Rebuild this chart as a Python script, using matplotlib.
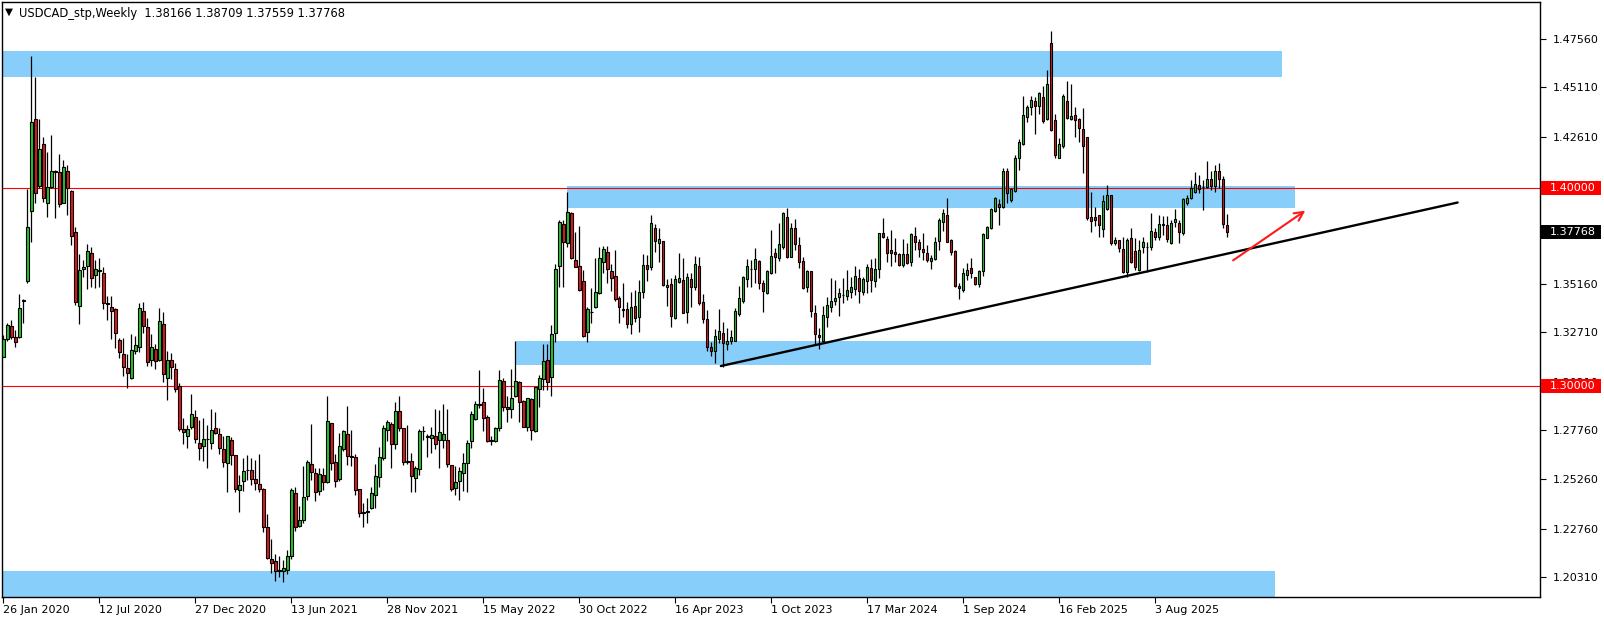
import matplotlib

matplotlib.use('Agg')
import numpy as np
import matplotlib.pyplot as plt
from matplotlib.patches import Rectangle
from matplotlib.transforms import blended_transform_factory

# USDCAD weekly candles, first bar = week of 26 Jan 2020
opens = [
    1.3148, 1.3235, 1.3303, 1.3247, 1.3249, 1.3430, 1.3532, 1.3887, 1.4349, 1.4014,
    1.4223, 1.3924, 1.4008, 1.4089, 1.4081, 1.3927, 1.4089, 1.3987, 1.3777, 1.3406,
    1.3590, 1.3608, 1.3671, 1.3560, 1.3585, 1.3570, 1.3418, 1.3401, 1.3389, 1.3230,
    1.3161, 1.3089, 1.3037, 1.3176, 1.3198, 1.3378, 1.3297, 1.3131, 1.3188, 1.3131,
    1.3314, 1.3037, 1.3133, 1.3083, 1.2999, 1.2780, 1.2747, 1.2791, 1.2842, 1.2712,
    1.2695, 1.2732, 1.2708, 1.2784, 1.2755, 1.2682, 1.2609, 1.2728, 1.2649, 1.2470,
    1.2518, 1.2572, 1.2574, 1.2529, 1.2505, 1.2476, 1.2287, 1.2122, 1.2112, 1.2060,
    1.2062, 1.2068, 1.2136, 1.2456, 1.2292, 1.2318, 1.2444, 1.2603, 1.2557, 1.2469,
    1.2549, 1.2515, 1.2810, 1.2613, 1.2527, 1.2679, 1.2757, 1.2645, 1.2638, 1.2478,
    1.2360, 1.2360, 1.2380, 1.2446, 1.2540, 1.2636, 1.2775, 1.2808, 1.2703, 1.2872,
    1.2786, 1.2620, 1.2618, 1.2535, 1.2578, 1.2770, 1.2748, 1.2735, 1.2748, 1.2726,
    1.2726, 1.2726, 1.2600, 1.2482, 1.2519, 1.2557, 1.2608, 1.2718, 1.2831, 1.2905,
    1.2918, 1.2840, 1.2725, 1.2722, 1.2785, 1.3026, 1.2891, 1.2880, 1.2950, 1.3018,
    1.2923, 1.2793, 1.2933, 1.2771, 1.2984, 1.3035, 1.3131, 1.3043, 1.3265, 1.3606,
    1.3818, 1.3725, 1.3873, 1.3637, 1.3608, 1.3532, 1.3274, 1.3375, 1.3397, 1.3468,
    1.3628, 1.3676, 1.3581, 1.3556, 1.3443, 1.3387, 1.3389, 1.3311, 1.3405, 1.3347,
    1.3476, 1.3610, 1.3600, 1.3797, 1.3721, 1.3733, 1.3502, 1.3514, 1.3342, 1.3527,
    1.3536, 1.3375, 1.3539, 1.3499, 1.3607, 1.3423, 1.3337, 1.3198, 1.3178, 1.3236,
    1.3269, 1.3210, 1.3229, 1.3229, 1.3364, 1.3431, 1.3541, 1.3590, 1.3590, 1.3634,
    1.3519, 1.3471, 1.3570, 1.3671, 1.3649, 1.3701, 1.3853, 1.3654, 1.3797, 1.3713,
    1.3632, 1.3499, 1.3581, 1.3367, 1.3257, 1.3229, 1.3347, 1.3400, 1.3431, 1.3451,
    1.3460, 1.3455, 1.3473, 1.3488, 1.3544, 1.3477, 1.3532, 1.3595, 1.3532, 1.3590,
    1.3772, 1.3741, 1.3687, 1.3679, 1.3667, 1.3611, 1.3667, 1.3628, 1.3758, 1.3730,
    1.3691, 1.3674, 1.3633, 1.3643, 1.3733, 1.3831, 1.3865, 1.3738, 1.3684, 1.3505,
    1.3485, 1.3561, 1.3595, 1.3553, 1.3514, 1.3581, 1.3750, 1.3797, 1.3885, 1.3919,
    1.3907, 1.4088, 1.3941, 1.3988, 1.4152, 1.4223, 1.4363, 1.4413, 1.4442, 1.4418,
    1.4464, 1.4351, 1.4734, 1.4346, 1.4155, 1.4216, 1.4442, 1.4351, 1.4371, 1.4349,
    1.4300, 1.4258, 1.3856, 1.3856, 1.3865, 1.3792, 1.3895, 1.3966, 1.3721, 1.3738,
    1.3692, 1.3578, 1.3747, 1.3682, 1.3586, 1.3701, 1.3705, 1.3701, 1.3777, 1.3752,
    1.3819, 1.3814, 1.3721, 1.3828, 1.3826, 1.3775, 1.3924, 1.3949, 1.3983, 1.4017,
    1.4008, 1.4005, 1.4045, 1.4010, 1.4090, 1.4045, 1.38166,
]
highs = [
    1.3257, 1.3320, 1.3334, 1.3283, 1.3465, 1.3441, 1.3997, 1.4672, 1.4565, 1.4351,
    1.4262, 1.4186, 1.4270, 1.4093, 1.4174, 1.4143, 1.4118, 1.3990, 1.3803, 1.3668,
    1.3637, 1.3718, 1.3705, 1.3637, 1.3646, 1.3603, 1.3455, 1.3455, 1.3392, 1.3240,
    1.3240, 1.3161, 1.3262, 1.3251, 1.3418, 1.3423, 1.3342, 1.3262, 1.3210, 1.3396,
    1.3375, 1.3176, 1.3164, 1.3113, 1.3013, 1.2835, 1.2801, 1.2957, 1.2876, 1.2828,
    1.2835, 1.2801, 1.2881, 1.2868, 1.2784, 1.2745, 1.2745, 1.2741, 1.2650, 1.2548,
    1.2633, 1.2648, 1.2633, 1.2625, 1.2655, 1.2483, 1.2351, 1.2226, 1.2150, 1.2140,
    1.2120, 1.2170, 1.2485, 1.2490, 1.2389, 1.2595, 1.2625, 1.2807, 1.2583, 1.2583,
    1.2583, 1.2949, 1.2812, 1.2655, 1.2760, 1.2777, 1.2899, 1.2777, 1.2653, 1.2478,
    1.2409, 1.2431, 1.2490, 1.2604, 1.2688, 1.2802, 1.2825, 1.2816, 1.2917, 1.2946,
    1.2787, 1.2800, 1.2658, 1.2594, 1.2780, 1.2794, 1.2758, 1.2792, 1.2883, 1.2875,
    1.2909, 1.2880, 1.2601, 1.2594, 1.2591, 1.2658, 1.2726, 1.2870, 1.2921, 1.3082,
    1.2989, 1.2852, 1.2745, 1.2792, 1.3080, 1.3037, 1.2946, 1.3083, 1.3227, 1.3026,
    1.2928, 1.2937, 1.2939, 1.2993, 1.3055, 1.3212, 1.3212, 1.3308, 1.3615, 1.3840,
    1.3840, 1.3983, 1.3882, 1.3781, 1.3809, 1.3586, 1.3397, 1.3493, 1.3645, 1.3701,
    1.3707, 1.3708, 1.3617, 1.3687, 1.3455, 1.3519, 1.3426, 1.3473, 1.3485, 1.3536,
    1.3666, 1.3662, 1.3865, 1.3819, 1.3801, 1.3735, 1.3539, 1.3544, 1.3561, 1.3674,
    1.3645, 1.3570, 1.3570, 1.3657, 1.3654, 1.3465, 1.3384, 1.3224, 1.3286, 1.3387,
    1.3325, 1.3291, 1.3283, 1.3392, 1.3505, 1.3556, 1.3640, 1.3637, 1.3696, 1.3637,
    1.3536, 1.3586, 1.3789, 1.3696, 1.3823, 1.3882, 1.3899, 1.3826, 1.3843, 1.3755,
    1.3654, 1.3586, 1.3582, 1.3409, 1.3291, 1.3404, 1.3448, 1.3544, 1.3536, 1.3493,
    1.3544, 1.3586, 1.3553, 1.3606, 1.3590, 1.3553, 1.3615, 1.3640, 1.3645, 1.3775,
    1.3848, 1.3758, 1.3789, 1.3747, 1.3674, 1.3742, 1.3725, 1.3775, 1.3806, 1.3742,
    1.3772, 1.3713, 1.3662, 1.3752, 1.3848, 1.3894, 1.3949, 1.3742, 1.3688, 1.3519,
    1.3595, 1.3623, 1.3645, 1.3553, 1.3586, 1.3772, 1.3811, 1.3902, 1.3957, 1.3946,
    1.4101, 1.4101, 1.4003, 1.4169, 1.4249, 1.4469, 1.4422, 1.4469, 1.4464, 1.4489,
    1.4518, 1.4599, 1.4796, 1.4374, 1.4253, 1.4476, 1.4543, 1.4526, 1.4413, 1.4354,
    1.4408, 1.4261, 1.3983, 1.3907, 1.3866, 1.3966, 1.4017, 1.3967, 1.3755, 1.3740,
    1.3755, 1.3747, 1.3797, 1.3747, 1.3738, 1.3755, 1.3730, 1.3877, 1.3797, 1.3865,
    1.3860, 1.3860, 1.3840, 1.3893, 1.3840, 1.3949, 1.3966, 1.4042, 1.4081, 1.4067,
    1.4042, 1.4140, 1.4090, 1.4120, 1.4130, 1.4060, 1.38709,
]
lows = [
    1.3145, 1.3229, 1.3235, 1.3198, 1.3240, 1.3316, 1.3519, 1.3730, 1.3924, 1.4000,
    1.3932, 1.3857, 1.4000, 1.3848, 1.3907, 1.3924, 1.3865, 1.3713, 1.3409, 1.3313,
    1.3549, 1.3489, 1.3499, 1.3494, 1.3502, 1.3387, 1.3333, 1.3237, 1.3190, 1.3139,
    1.3050, 1.2990, 1.3035, 1.3161, 1.3171, 1.3266, 1.3101, 1.3098, 1.3083, 1.3125,
    1.3019, 1.2927, 1.3032, 1.2970, 1.2773, 1.2705, 1.2686, 1.2783, 1.2710, 1.2626,
    1.2620, 1.2586, 1.2682, 1.2755, 1.2657, 1.2589, 1.2463, 1.2598, 1.2463, 1.2363,
    1.2468, 1.2523, 1.2498, 1.2473, 1.2462, 1.2262, 1.2124, 1.2050, 1.2012, 1.2030,
    1.2007, 1.2045, 1.2122, 1.2267, 1.2287, 1.2304, 1.2422, 1.2523, 1.2417, 1.2447,
    1.2473, 1.2510, 1.2574, 1.2490, 1.2520, 1.2669, 1.2600, 1.2595, 1.2447, 1.2334,
    1.2287, 1.2304, 1.2375, 1.2383, 1.2490, 1.2625, 1.2721, 1.2585, 1.2681, 1.2771,
    1.2601, 1.2605, 1.2460, 1.2460, 1.2549, 1.2726, 1.2637, 1.2660, 1.2680, 1.2586,
    1.2687, 1.2591, 1.2466, 1.2449, 1.2424, 1.2466, 1.2461, 1.2684, 1.2828, 1.2888,
    1.2773, 1.2716, 1.2700, 1.2715, 1.2772, 1.2874, 1.2818, 1.2835, 1.2945, 1.2818,
    1.2789, 1.2771, 1.2725, 1.2767, 1.2894, 1.2979, 1.2979, 1.2950, 1.3223, 1.3502,
    1.3502, 1.3701, 1.3640, 1.3600, 1.3482, 1.3249, 1.3223, 1.3316, 1.3395, 1.3465,
    1.3569, 1.3519, 1.3481, 1.3431, 1.3320, 1.3350, 1.3291, 1.3260, 1.3322, 1.3274,
    1.3443, 1.3533, 1.3586, 1.3676, 1.3628, 1.3505, 1.3404, 1.3299, 1.3340, 1.3519,
    1.3370, 1.3316, 1.3401, 1.3485, 1.3409, 1.3316, 1.3178, 1.3151, 1.3117, 1.3215,
    1.3097, 1.3180, 1.3212, 1.3225, 1.3354, 1.3418, 1.3502, 1.3502, 1.3519, 1.3488,
    1.3375, 1.3465, 1.3568, 1.3570, 1.3634, 1.3691, 1.3648, 1.3652, 1.3688, 1.3595,
    1.3488, 1.3477, 1.3350, 1.3212, 1.3185, 1.3225, 1.3296, 1.3375, 1.3409, 1.3354,
    1.3418, 1.3435, 1.3443, 1.3460, 1.3421, 1.3460, 1.3468, 1.3477, 1.3502, 1.3547,
    1.3747, 1.3629, 1.3607, 1.3629, 1.3606, 1.3600, 1.3617, 1.3606, 1.3688, 1.3654,
    1.3637, 1.3629, 1.3590, 1.3637, 1.3688, 1.3785, 1.3728, 1.3662, 1.3500, 1.3438,
    1.3477, 1.3536, 1.3544, 1.3510, 1.3500, 1.3557, 1.3747, 1.3793, 1.3882, 1.3814,
    1.3902, 1.3924, 1.3932, 1.3983, 1.4093, 1.4219, 1.4334, 1.4371, 1.4273, 1.4374,
    1.4329, 1.4346, 1.4290, 1.4152, 1.4152, 1.4206, 1.4351, 1.4346, 1.4261, 1.4236,
    1.4076, 1.3839, 1.3780, 1.3809, 1.3755, 1.3755, 1.3890, 1.3713, 1.3713, 1.3679,
    1.3570, 1.3553, 1.3623, 1.3586, 1.3583, 1.3671, 1.3578, 1.3688, 1.3738, 1.3738,
    1.3764, 1.3730, 1.3718, 1.3806, 1.3721, 1.3764, 1.3915, 1.3944, 1.3975, 1.3975,
    1.3890, 1.4000, 1.3990, 1.3980, 1.4000, 1.3800, 1.37559,
]
closes = [
    1.3235, 1.3306, 1.3249, 1.3224, 1.3392, 1.3436, 1.3802, 1.4334, 1.3975, 1.4199,
    1.3949, 1.4008, 1.4089, 1.4085, 1.3919, 1.4110, 1.4000, 1.3760, 1.3423, 1.3587,
    1.3600, 1.3684, 1.3544, 1.3593, 1.3583, 1.3418, 1.3415, 1.3381, 1.3266, 1.3173,
    1.3097, 1.3063, 1.3179, 1.3209, 1.3393, 1.3305, 1.3118, 1.3198, 1.3125, 1.3328,
    1.3061, 1.3130, 1.3093, 1.2984, 1.2783, 1.2768, 1.2780, 1.2859, 1.2730, 1.2685,
    1.2732, 1.2730, 1.2776, 1.2759, 1.2685, 1.2614, 1.2745, 1.2652, 1.2475, 1.2497,
    1.2570, 1.2575, 1.2527, 1.2506, 1.2477, 1.2287, 1.2127, 1.2105, 1.2060, 1.2068,
    1.2075, 1.2140, 1.2473, 1.2284, 1.2318, 1.2436, 1.2613, 1.2561, 1.2464, 1.2554,
    1.2515, 1.2822, 1.2611, 1.2520, 1.2696, 1.2772, 1.2645, 1.2642, 1.2473, 1.2358,
    1.2358, 1.2366, 1.2456, 1.2544, 1.2638, 1.2785, 1.2816, 1.2703, 1.2872, 1.2786,
    1.2616, 1.2616, 1.2543, 1.2583, 1.2772, 1.2772, 1.2740, 1.2753, 1.2703, 1.2765,
    1.2755, 1.2603, 1.2477, 1.2511, 1.2571, 1.2608, 1.2709, 1.2858, 1.2907, 1.2907,
    1.2836, 1.2722, 1.2722, 1.2784, 1.3029, 1.2891, 1.2880, 1.2936, 1.3024, 1.2916,
    1.2793, 1.2936, 1.2776, 1.2992, 1.3038, 1.3126, 1.3018, 1.3262, 1.3591, 1.3828,
    1.3730, 1.3882, 1.3645, 1.3603, 1.3485, 1.3254, 1.3387, 1.3373, 1.3473, 1.3645,
    1.3692, 1.3593, 1.3544, 1.3441, 1.3397, 1.3384, 1.3311, 1.3400, 1.3345, 1.3473,
    1.3610, 1.3593, 1.3825, 1.3735, 1.3742, 1.3510, 1.3508, 1.3355, 1.3539, 1.3544,
    1.3370, 1.3553, 1.3499, 1.3617, 1.3421, 1.3338, 1.3198, 1.3178, 1.3253, 1.3275,
    1.3215, 1.3227, 1.3249, 1.3380, 1.3443, 1.3549, 1.3607, 1.3592, 1.3640, 1.3522,
    1.3481, 1.3581, 1.3657, 1.3654, 1.3718, 1.3873, 1.3650, 1.3797, 1.3716, 1.3625,
    1.3497, 1.3581, 1.3380, 1.3262, 1.3245, 1.3359, 1.3409, 1.3429, 1.3443, 1.3468,
    1.3458, 1.3485, 1.3498, 1.3558, 1.3482, 1.3539, 1.3603, 1.3535, 1.3590, 1.3772,
    1.3752, 1.3671, 1.3674, 1.3667, 1.3611, 1.3667, 1.3623, 1.3768, 1.3730, 1.3691,
    1.3679, 1.3637, 1.3649, 1.3730, 1.3840, 1.3874, 1.3730, 1.3675, 1.3505, 1.3493,
    1.3570, 1.3588, 1.3569, 1.3514, 1.3581, 1.3768, 1.3804, 1.3895, 1.3949, 1.3907,
    1.4089, 1.3975, 1.3996, 1.4155, 1.4233, 1.4371, 1.4413, 1.4447, 1.4418, 1.4481,
    1.4343, 1.4526, 1.4295, 1.4169, 1.4224, 1.4469, 1.4358, 1.4366, 1.4346, 1.4307,
    1.4216, 1.3851, 1.3836, 1.3840, 1.3814, 1.3936, 1.3966, 1.3725, 1.3738, 1.3696,
    1.3578, 1.3738, 1.3628, 1.3600, 1.3687, 1.3726, 1.3703, 1.3783, 1.3755, 1.3819,
    1.3815, 1.3742, 1.3823, 1.3845, 1.3777, 1.3944, 1.3949, 1.4000, 1.4022, 1.3995,
    1.4006, 1.4045, 1.4010, 1.4090, 1.4045, 1.3817, 1.37768,
]

date_labels = ['26 Jan 2020', '12 Jul 2020', '27 Dec 2020', '13 Jun 2021', '28 Nov 2021',
               '15 May 2022', '30 Oct 2022', '16 Apr 2023', '1 Oct 2023', '17 Mar 2024',
               '1 Sep 2024', '16 Feb 2025', '3 Aug 2025']
bars_per_label = 24

price_ticks = [1.20310, 1.22760, 1.25260, 1.27760, 1.30210, 1.32710,
               1.35160, 1.37660, 1.40110, 1.42610, 1.45110, 1.47560]

# supply / demand zones: (first bar, last bar, low, high)
zones = [
    (-0.1, 319.7, 1.4565, 1.4695),
    (141.0, 322.9, 1.3901, 1.4012),
    (128.1, 286.9, 1.3107, 1.3227),
    (-0.1, 318.0, 1.1925, 1.2062),
]
level_lines = [1.40, 1.30]
trend_bars = [179.4, 363.6]
trend_prices = [1.3100, 1.3928]
arrow_from = (306.9, 1.3627)
arrow_to = (326.1, 1.3895)

symbol = 'USDCAD_stp,Weekly'

W, H = 1604, 620
fig = plt.figure(figsize=(W / 100, H / 100), dpi=100)
fig.patch.set_facecolor('white')
# plot frame: x 2..1540 px, y 2..597 px (from top)
ax = fig.add_axes([2 / W, (H - 597) / H, 1538 / W, 595 / H])
ax.set_xlim(-0.325, 384.2)
ax.set_ylim(1.19306, 1.49433)

o = np.array(opens)
h = np.array(highs)
l = np.array(lows)
c = np.array(closes)
x = np.arange(len(c))

for x0, x1, lo, hi in zones:
    ax.add_patch(Rectangle((x0, lo), x1 - x0, hi - lo, facecolor='#87cefa',
                           edgecolor='none', zorder=1))

for lvl in level_lines:
    ax.axhline(lvl, color='#ff0000', lw=0.8, zorder=2)

up = c >= o
ax.vlines(x, l, h, color='black', lw=0.9, zorder=3)
body_lo = np.minimum(o, c)
body_h = np.maximum(np.abs(c - o), 0.00015)
ax.bar(x[up], body_h[up], bottom=body_lo[up], width=0.62, color='#22c72a',
       edgecolor='black', linewidth=0.8, zorder=4)
ax.bar(x[~up], body_h[~up], bottom=body_lo[~up], width=0.62, color='#e5151b',
       edgecolor='black', linewidth=0.8, zorder=4)

ax.plot(trend_bars, trend_prices, color='black', lw=1.7, zorder=5,
        solid_capstyle='round')
ax.annotate('', xy=arrow_to, xytext=arrow_from,
            arrowprops=dict(arrowstyle='->', color='#ff1a1a', lw=1.5,
                            mutation_scale=16), zorder=6)

# axes styling
for s in ax.spines.values():
    s.set_color('black')
    s.set_linewidth(1.0)
ax.yaxis.tick_right()
ax.set_yticks(price_ticks)
ax.set_yticklabels([f'{p:.5f}' for p in price_ticks])
ax.tick_params(axis='y', direction='out', length=4, width=0.8, pad=5,
               labelsize=8, colors='black')
ax.set_xticks([i * bars_per_label for i in range(len(date_labels))])
ax.set_xticklabels(date_labels, ha='left')
ax.tick_params(axis='x', direction='out', length=4, width=0.8, pad=2,
               labelsize=8, colors='black')

# price boxes on the right scale
tr = blended_transform_factory(fig.transFigure, ax.transData)
box_x0 = 1541 / W
box_w = 60 / W
box_h = 14 / 1975
for lvl, bg in [(1.40, '#ff0000'), (1.30, '#ff0000'), (closes[-1], 'black')]:
    ax.add_patch(Rectangle((box_x0, lvl - box_h / 2), box_w, box_h, transform=tr,
                           facecolor=bg, edgecolor='none', clip_on=False, zorder=10))
    ax.text(1550 / W, lvl, f'{lvl:.5f}', transform=tr, color='white', fontsize=8,
            va='center', ha='left', clip_on=False, zorder=11)

fig.text(5 / W, 1 - 12 / H, '\u25bc', fontsize=7.5, va='center', ha='left')
fig.text(19 / W, 1 - 13 / H,
         f'{symbol}  {opens[-1]:.5f} {highs[-1]:.5f} {lows[-1]:.5f} {closes[-1]:.5f}',
         fontsize=8.3, va='center', ha='left')

fig.savefig('out.png', dpi=100)
